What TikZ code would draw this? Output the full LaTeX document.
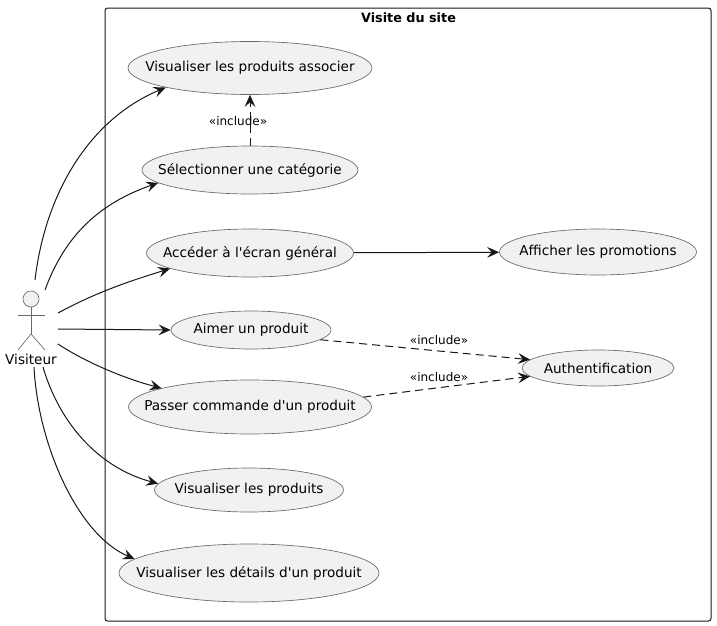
\documentclass[tikz,border=0pt]{standalone}
\usepackage{fontspec}
\setmainfont{DejaVu Sans}
\usepackage{xcolor}
\usetikzlibrary{arrows.meta,shapes.geometric}
\definecolor{umlink}{HTML}{181818}
\definecolor{umledge}{HTML}{6A6A6A}
\definecolor{umlfill}{HTML}{F1F1F1}
\begin{document}
\begin{tikzpicture}[
  x=0.75pt,
  y=-0.75pt,
  every node/.style={font=\fontsize{10.2pt}{12pt}\selectfont, text=black},
  frame/.style={umlink, line width=0.75pt, rounded corners=2pt},
  usecase/.style={ellipse, draw=umledge, fill=umlfill, line width=0.5pt, inner xsep=-20pt, inner ysep=-6pt},
  actorline/.style={umledge, line width=0.5pt},
  link/.style={umlink, line width=0.75pt, -{Stealth[length=9pt, width=8pt, inset=3.4pt]}},
  linkdash/.style={link, dash pattern=on 6pt off 3.75pt},
  stereo/.style={font=\fontsize{9pt}{10pt}\selectfont, inner sep=0pt}
]
  % ---- margins of the page ----------------------------------------------
  \useasboundingbox (0,0) rectangle (717,625);

  % ---- the system boundary ----------------------------------------------
  \draw[frame] (105,8) rectangle (711,621);
  \node[font=\fontsize{9.6pt}{11pt}\selectfont\bfseries, inner sep=0pt] (title) at (408.5,18) {Visite du site};

  % ---- the actor --------------------------------------------------------
  \node[circle, draw=umledge, fill=umlfill, line width=0.5pt, inner sep=0pt, minimum size=12pt] (head) at (31,299) {};
  \draw[actorline] (head.south) -- (31,334);
  \draw[actorline] (18,315) -- (45,315);
  \draw[actorline] (18,350) -- (31,334) -- (45,350);
  \node[inner sep=0pt] (visiteur) at (31,359) {Visiteur};

  % the connectors leave from these points round the actor
  \coordinate (a1) at (35,280);
  \coordinate (a2) at (45,290);
  \coordinate (a3) at (58,313);
  \coordinate (a4) at (58,329);
  \coordinate (a5) at (58,344);
  \coordinate (a6) at (43,367);
  \coordinate (a7) at (34,367);

  % ---- the use cases ----------------------------------------------------
  \node[usecase, minimum width=183pt, minimum height=39.75pt] (assoc) at (250,68) {Visualiser les produits associer};
  \node[usecase, minimum width=162pt, minimum height=36pt] (categorie) at (250,170) {Sélectionner une catégorie};
  \node[usecase, minimum width=155.25pt, minimum height=36pt] (ecran) at (250,253) {Accéder à l\textquotesingle écran général};
  \node[usecase, minimum width=147.75pt, minimum height=34.5pt] (promos) at (598,252) {Afficher les promotions};
  \node[usecase, minimum width=120pt, minimum height=28.5pt] (aimer) at (251,330) {Aimer un produit};
  \node[usecase, minimum width=114pt, minimum height=27pt] (auth) at (598,368) {Authentification};
  \node[usecase, minimum width=182.25pt, minimum height=40.5pt] (commande) at (250,407) {Passer commande d\textquotesingle un produit};
  \node[usecase, minimum width=141.75pt, minimum height=33pt] (produits) at (249,490) {Visualiser les produits};
  \node[usecase, minimum width=195pt, minimum height=43.5pt] (details) at (249,573) {Visualiser les détails d\textquotesingle un produit};

  % ---- from the actor to the use cases ----------------------------------
  \draw[link] (a1) .. controls (45,195) and (88,120) .. (assoc.193);
  \draw[link] (a2) .. controls (65,235) and (100,203) .. (categorie.188);
  \draw[link] (a3) .. controls (100,290) and (140,278) .. (ecran.191);
  \draw[link] (a4) -- (aimer.west);
  \draw[link] (a5) .. controls (90,365) and (130,380) .. (commande.168);
  \draw[link] (a6) .. controls (60,425) and (100,468) .. (produits.176);
  \draw[link] (a7) .. controls (38,445) and (78,535) .. (details.173);

  % ---- between the use cases --------------------------------------------
  \draw[link] (ecran) -- (promos);
  \draw[linkdash] (categorie.north) -- (assoc.south);
  \draw[linkdash] (aimer.352) -- (auth.173);
  \draw[linkdash] (commande.5) -- (auth.187);

  % ---- the stereotypes --------------------------------------------------
  \node[stereo] (incl1) at (238,121) {«include»};
  \node[stereo] (incl2) at (439,340) {«include»};
  \node[stereo] (incl3) at (439,377) {«include»};

\end{tikzpicture}
\end{document}
